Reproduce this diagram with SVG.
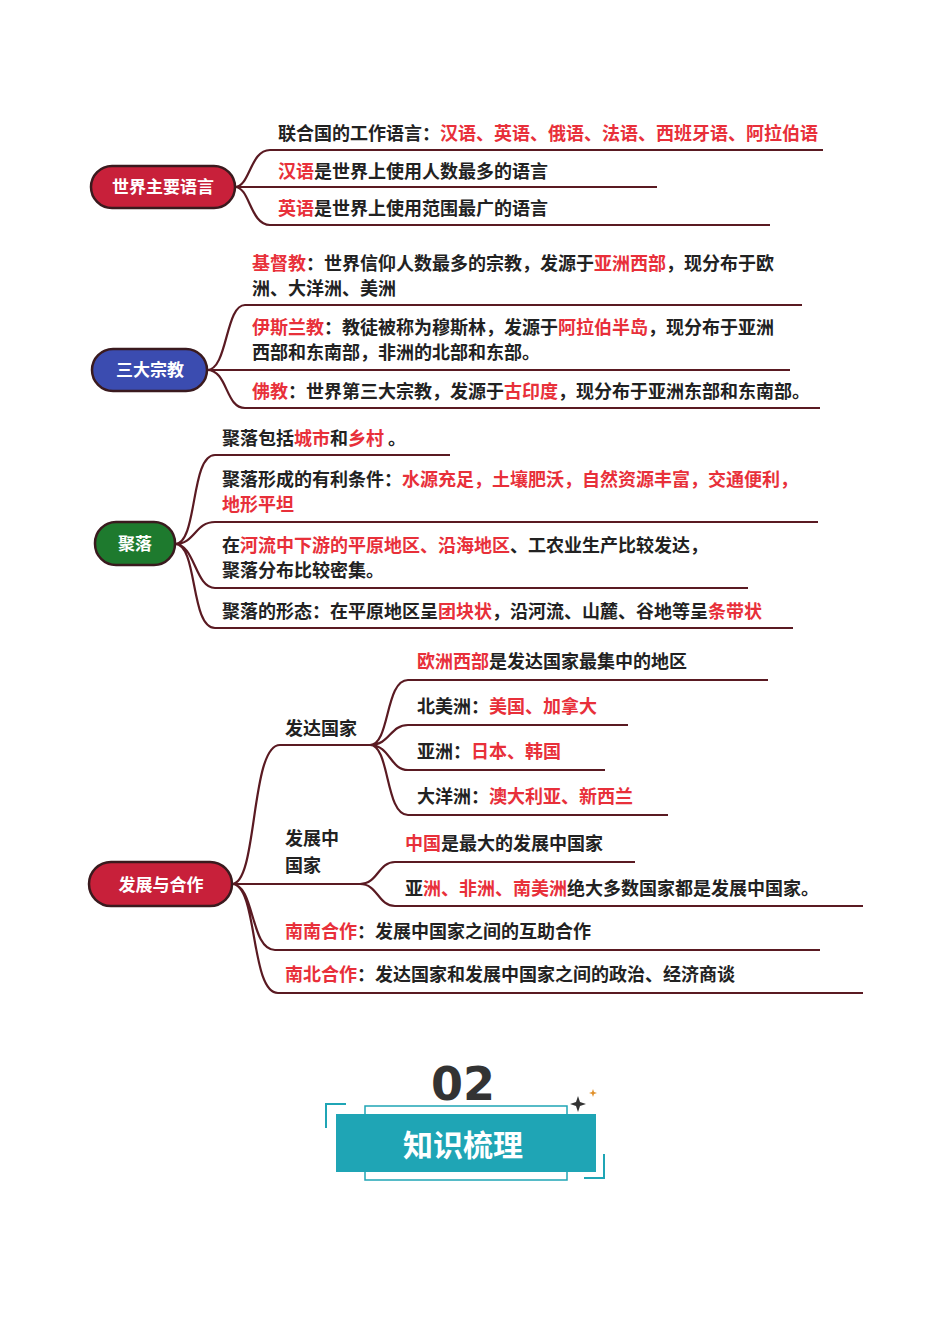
<svg xmlns="http://www.w3.org/2000/svg" width="950" height="1344" viewBox="0 0 950 1344">
<style>
text{font-family:"Noto Sans CJK SC","Liberation Serif",serif;font-weight:bold;font-size:18px;fill:#222}
.r{fill:#e8303a}
.b{fill:#fff;font-size:17px}
.l{fill:none;stroke:#5a1a22;stroke-width:2.2}
.p{stroke:#3a1a1e;stroke-width:2.5}
</style>
<rect width="950" height="1344" fill="#fff"/>
<g id="connectors">
<path class="l" d="M235 187 C250 187 250 150 270 150 H823 M235 187 H657 M235 187 C250 187 250 225 270 225 H770"/>
<path class="l" d="M207 370 C228 370 225 305 245 305 H802 M207 370 H790 M207 370 C228 370 225 408 245 408 H820"/>
<path class="l" d="M175 544 C198 544 190 455 215 455 H450 M175 544 C195 544 195 522 215 522 H818 M175 544 C195 544 195 588 215 588 H748 M175 544 C198 544 190 628 215 628 H793"/>
<path class="l" d="M232 884 C258 884 250 745 280 745 H370 M232 884 H360 M232 884 C255 884 250 950 275 950 H820 M232 884 C258 884 250 993 278 993 H863"/>
<path class="l" d="M370 745 C390 745 385 680 408 680 H768 M370 745 C390 745 390 725 408 725 H628 M370 745 C390 745 390 770 408 770 H605 M370 745 C390 745 385 815 408 815 H668"/>
<path class="l" d="M360 884 C378 884 378 862 395 862 H635 M360 884 C378 884 378 906 395 906 H863"/>
</g>
<g id="n1"><rect class="p" x="91" y="166" width="144" height="42" rx="21" fill="#c8203a"/><text class="b" x="163" y="193" text-anchor="middle">世界主要语言</text>
<text x="278" y="140">联合国的工作语言：<tspan class="r">汉语、英语、俄语、法语、西班牙语、阿拉伯语</tspan></text>
<text x="278" y="178"><tspan class="r">汉语</tspan>是世界上使用人数最多的语言</text>
<text x="278" y="215"><tspan class="r">英语</tspan>是世界上使用范围最广的语言</text></g>
<g id="n2"><rect class="p" x="92" y="349" width="115" height="42" rx="21" fill="#3b4cb0"/><text class="b" x="150" y="376" text-anchor="middle">三大宗教</text>
<text x="252" y="270"><tspan class="r">基督教</tspan>：世界信仰人数最多的宗教，发源于<tspan class="r">亚洲西部</tspan>，现分布于欧</text>
<text x="252" y="295">洲、大洋洲、美洲</text>
<text x="252" y="334"><tspan class="r">伊斯兰教</tspan>：教徒被称为穆斯林，发源于<tspan class="r">阿拉伯半岛</tspan>，现分布于亚洲</text>
<text x="252" y="359">西部和东南部，非洲的北部和东部。</text>
<text x="252" y="398"><tspan class="r">佛教</tspan>：世界第三大宗教，发源于<tspan class="r">古印度</tspan>，现分布于亚洲东部和东南部。</text></g>
<g id="n3"><rect class="p" x="95" y="522" width="80" height="43" rx="21" fill="#1e7a2e"/><text class="b" x="135" y="550" text-anchor="middle">聚落</text>
<text x="222" y="445">聚落包括<tspan class="r">城市</tspan>和<tspan class="r">乡村</tspan> 。</text>
<text x="222" y="486">聚落形成的有利条件：<tspan class="r">水源充足，土壤肥沃，自然资源丰富，交通便利，</tspan></text>
<text x="222" y="511" class="r">地形平坦</text>
<text x="222" y="552">在<tspan class="r">河流中下游的平原地区、沿海地区</tspan>、工农业生产比较发达，</text>
<text x="222" y="577">聚落分布比较密集。</text>
<text x="222" y="618">聚落的形态：在平原地区呈<tspan class="r">团块状</tspan>，沿河流、山麓、谷地等呈<tspan class="r">条带状</tspan></text></g>
<g id="n4"><rect class="p" x="89" y="862" width="143" height="44" rx="22" fill="#c8203a"/><text class="b" x="161" y="891" text-anchor="middle">发展与合作</text>
<text x="285" y="735">发达国家</text>
<text x="417" y="668"><tspan class="r">欧洲西部</tspan>是发达国家最集中的地区</text>
<text x="417" y="713">北美洲：<tspan class="r">美国、加拿大</tspan></text>
<text x="417" y="758">亚洲：<tspan class="r">日本、韩国</tspan></text>
<text x="417" y="803">大洋洲：<tspan class="r">澳大利亚、新西兰</tspan></text>
<text x="285" y="845">发展中</text><text x="285" y="872">国家</text>
<text x="405" y="850"><tspan class="r">中国</tspan>是最大的发展中国家</text>
<text x="405" y="895">亚<tspan class="r">洲、非洲、南美洲</tspan>绝大多数国家都是发展中国家。</text>
<text x="285" y="938"><tspan class="r">南南合作</tspan>：发展中国家之间的互助合作</text>
<text x="285" y="981"><tspan class="r">南北合作</tspan>：发达国家和发展中国家之间的政治、经济商谈</text></g>
<g id="title">
<text x="463" y="1100" text-anchor="middle" style="font-family:'DejaVu Sans',sans-serif;font-size:46px;fill:#333">02</text>
<rect x="365" y="1106" width="202" height="74" fill="none" stroke="#1fa5b5" stroke-width="1.5"/>
<rect x="336" y="1114" width="260" height="58" fill="#1fa5b5"/>
<text x="463" y="1156" text-anchor="middle" style="fill:#fff;font-size:30px">知识梳理</text>
<path d="M346 1104 H326 V1128 M584 1178 H604 V1154" fill="none" stroke="#1fa5b5" stroke-width="2"/>
<path d="M578 1096 L580 1102 L586 1104 L580 1106 L578 1112 L576 1106 L570 1104 L576 1102Z" fill="#333"/>
<path d="M593 1089 L594 1092 L597 1093 L594 1094 L593 1097 L592 1094 L589 1093 L592 1092Z" fill="#e0902a"/>
</g>
</svg>
